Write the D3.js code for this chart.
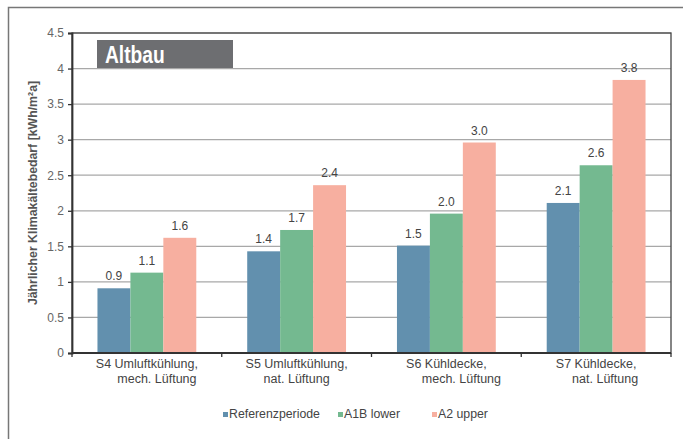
<!DOCTYPE html>
<html>
<head>
<meta charset="utf-8">
<script src="https://cdn.jsdelivr.net/npm/d3@7"></script>
<style>
  body { margin: 0; background: #fff; }
  svg { display: block; font-family: "Liberation Sans", Arial, sans-serif; }
</style>
</head>
<body>
<div id="chart"></div>
<script>
const categories = ['S4', 'S5', 'S6', 'S7'];
const categoryLabels = [
  ['S4 Umluftkühlung,', 'mech. Lüftung'],
  ['S5 Umluftkühlung,', 'nat. Lüftung'],
  ['S6 Kühldecke,', 'mech. Lüftung'],
  ['S7 Kühldecke,', 'nat. Lüftung']
];
const seriesNames = ['Referenzperiode', 'A1B lower', 'A2 upper'];
const referenz = [0.91, 1.43, 1.51, 2.11];
const a1bLower = [1.13, 1.73, 1.96, 2.64];
const a2Upper = [1.62, 2.36, 2.96, 3.84];
const yTicks = [0, 0.5, 1, 1.5, 2, 2.5, 3, 3.5, 4, 4.5];
const yTitle = 'Jährlicher Klimakältebedarf [kWh/m²a]';
const badge = 'Altbau';

const colors = ['#6290ae', '#74b990', '#f7afa0'];
// second label line sits a bit right of the first one, as in the original
const secondLineShift = [10, 0, 15, 9];

const width = 683, height = 439;
const margin = { top: 33, right: 12, bottom: 86, left: 72 };

const svg = d3.select('#chart').append('svg')
  .attr('width', width)
  .attr('height', height);

// outer frame (top and left edges only)
svg.append('path')
  .attr('d', `M8.5,${height} L8.5,7.5 L${width},7.5`)
  .attr('fill', 'none')
  .attr('stroke', '#777')
  .attr('stroke-width', 1.5);

const x0 = d3.scaleBand()
  .domain(categories)
  .range([margin.left, width - margin.right]);

const x1 = d3.scaleBand()
  .domain(seriesNames)
  .range([0, x0.bandwidth()])
  .paddingOuter(0.773);

const y = d3.scaleLinear()
  .domain([0, 4.5])
  .range([height - margin.bottom, margin.top]);

// gridlines
svg.append('g')
  .selectAll('line')
  .data(yTicks.slice(1))
  .join('line')
  .attr('x1', margin.left)
  .attr('x2', width - margin.right)
  .attr('y1', d => y(d))
  .attr('y2', d => y(d))
  .attr('stroke', '#a8a8a8')
  .attr('stroke-width', 1.2);

const rows = categories.map((c, i) => ({
  cat: c,
  values: [referenz[i], a1bLower[i], a2Upper[i]]
}));

const groups = svg.append('g')
  .selectAll('g')
  .data(rows)
  .join('g')
  .attr('transform', d => `translate(${x0(d.cat)},0)`);

groups.selectAll('rect')
  .data(d => d.values.map((v, j) => ({ v, s: seriesNames[j], j })))
  .join('rect')
  .attr('x', d => x1(d.s))
  .attr('width', x1.bandwidth())
  .attr('y', d => y(d.v))
  .attr('height', d => y(0) - y(d.v))
  .attr('fill', d => colors[d.j]);

groups.selectAll('text')
  .data(d => d.values.map((v, j) => ({ v, s: seriesNames[j] })))
  .join('text')
  .attr('x', d => x1(d.s) + x1.bandwidth() / 2)
  .attr('y', d => y(d.v) - 8)
  .attr('text-anchor', 'middle')
  .attr('font-size', 12)
  .attr('fill', '#444')
  .text(d => d3.format('.1f')(d.v));

// plot border
svg.append('rect')
  .attr('x', margin.left)
  .attr('y', margin.top)
  .attr('width', width - margin.left - margin.right)
  .attr('height', height - margin.top - margin.bottom)
  .attr('fill', 'none')
  .attr('stroke', '#444')
  .attr('stroke-width', 1.3);

// y axis
const yAxis = svg.append('g')
  .attr('transform', `translate(${margin.left},0)`)
  .call(d3.axisLeft(y).tickValues(yTicks).tickSize(4).tickPadding(4).tickFormat(d => String(d)));
yAxis.select('.domain').attr('stroke', '#333').attr('stroke-width', 1.8);
yAxis.selectAll('.tick line').attr('stroke', '#333').attr('stroke-width', 1.3);
yAxis.selectAll('.tick text')
  .attr('font-size', 12)
  .attr('font-family', '"Liberation Sans", Arial, sans-serif')
  .attr('fill', '#666');

// x axis line + boundary ticks
svg.append('line')
  .attr('x1', margin.left).attr('x2', width - margin.right)
  .attr('y1', y(0)).attr('y2', y(0))
  .attr('stroke', '#333').attr('stroke-width', 1.8);

const boundaries = categories.map(c => x0(c) + x0.bandwidth()).concat([x0(categories[0])]);
svg.append('g')
  .selectAll('line')
  .data(boundaries)
  .join('line')
  .attr('x1', d => d).attr('x2', d => d)
  .attr('y1', y(0)).attr('y2', y(0) + 4)
  .attr('stroke', '#333')
  .attr('stroke-width', 1.3);

// category labels
const xl = svg.append('g')
  .selectAll('text')
  .data(categories)
  .join('text')
  .attr('text-anchor', 'middle')
  .attr('font-size', 12.5)
  .attr('fill', '#444');

xl.append('tspan')
  .attr('x', d => x0(d) + x0.bandwidth() / 2)
  .attr('y', y(0) + 15)
  .text((d, i) => categoryLabels[i][0]);

xl.append('tspan')
  .attr('x', (d, i) => x0(d) + x0.bandwidth() / 2 + secondLineShift[i])
  .attr('y', y(0) + 30)
  .text((d, i) => categoryLabels[i][1]);

// y title
svg.append('text')
  .attr('transform', `translate(37,${(y(0) + y(4.5)) / 2}) rotate(-90)`)
  .attr('text-anchor', 'middle')
  .attr('font-size', 12.3)
  .attr('font-weight', 'bold')
  .attr('fill', '#555')
  .text(yTitle);

// badge
svg.append('rect')
  .attr('x', 97).attr('y', 40)
  .attr('width', 136).attr('height', 28)
  .attr('fill', '#6d6e71');
svg.append('text')
  .attr('transform', 'translate(105,63) scale(0.8,1)')
  .attr('font-weight', 'bold')
  .attr('font-size', 24)
  .attr('fill', '#fff')
  .text(badge);

// legend
const legendX = [223, 338, 432];
const legend = svg.append('g')
  .selectAll('g')
  .data(seriesNames)
  .join('g')
  .attr('transform', (d, i) => `translate(${legendX[i]},412)`);
legend.append('rect')
  .attr('width', 5).attr('height', 5)
  .attr('fill', (d, i) => colors[i]);
legend.append('text')
  .attr('x', 6).attr('y', 6)
  .attr('font-size', 12.3)
  .attr('fill', '#444')
  .text(d => d);
</script>
</body>
</html>
